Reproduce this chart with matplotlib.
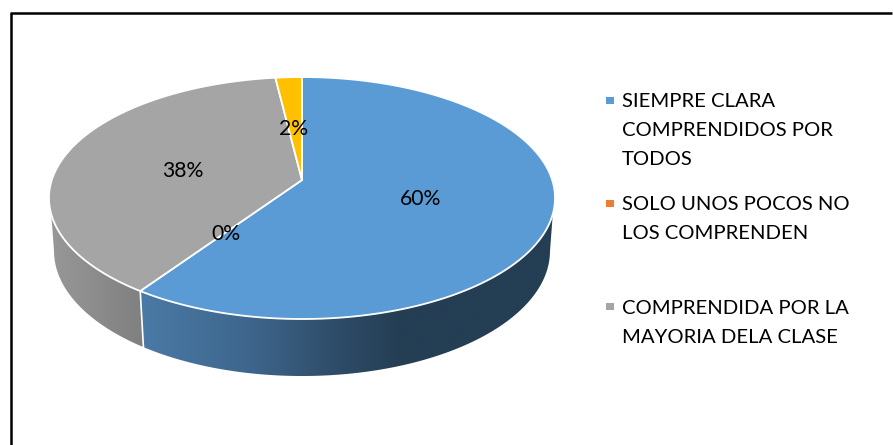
import numpy as np
import matplotlib
matplotlib.use("Agg")
import matplotlib.pyplot as plt
from matplotlib.patches import Polygon, Rectangle

plt.rcParams['font.family'] = ['Lato', 'DejaVu Sans']

# data
categories = ["SIEMPRE CLARA\nCOMPRENDIDOS POR\nTODOS",
              "SOLO UNOS POCOS NO\nLOS COMPRENDEN",
              "COMPRENDIDA POR LA\nMAYORIA DELA CLASE"]
values = [59.6, 0, 38.45, 1.95]
colors = ["#5B9BD5", "#ED7D31", "#A5A5A5", "#FFC000"]
label_pos = [(421, 199), (226, 234), (183, 171), (294, 129)]
legend_y = [100.5, 203.5, 306.5]
legend_text_y = [93, 196, 300]

# wall shading, left to right: x, rgb
wall_blue = [(140, (74, 122, 166)), (250, (62, 102, 140)), (330, (48, 78, 106)), (400, (36, 62, 84)), (556, (36, 62, 84))]
wall_grey = [(49, (152, 152, 152)), (143, (128, 128, 128))]

# geometry of the tilted disc, in pixels
CX, CY = 302, 180
A, B, K = 250.2, 118.3, 0.149


def top_xy(t):
    # t clockwise from 12 o'clock, simple perspective of a circle
    u, v = np.sin(t), np.cos(t)
    w = 1 + K * v
    return CX + A * u / w, CY - B * v / w


def bottom_xy(t):
    x, y = top_xy(t)
    return CX + (x - CX) * 0.98, 251 + (y - 198) * 125 / 121


fig = plt.figure(figsize=(8.93, 4.45), dpi=100)
ax = fig.add_axes([0, 0, 1, 1])

# outer frame
ax.plot([11, 11], [445, 12.5], color="black", lw=1.8, solid_capstyle="butt", zorder=1)
ax.plot([10, 892], [12.5, 12.5], color="black", lw=1.8, solid_capstyle="butt", zorder=1)

total = sum(values)
edges = 2 * np.pi * np.cumsum([0] + values) / total

# side wall, front half only
for i, grad in [(0, wall_blue), (2, wall_grey)]:
    ts = np.linspace(edges[i], edges[i + 1], 800)
    xt, yt = top_xy(ts)
    xb, yb = bottom_xy(ts)
    keep_t = yt >= 214
    keep_b = yb >= 251
    pts = list(zip(xt[keep_t], yt[keep_t])) + list(zip(xb[keep_b][::-1], yb[keep_b][::-1]))
    clip = Polygon(pts, closed=True, transform=ax.transData)
    gx = [g[0] for g in grad]
    xs = np.arange(gx[0], gx[-1] + 1)
    img = np.array([[[np.interp(x, gx, [g[1][k] for g in grad]) / 255 for k in range(3)] for x in xs]])
    im = ax.imshow(img, extent=(gx[0], gx[-1], 400, 150), aspect="auto", interpolation="bilinear", zorder=2)
    im.set_clip_path(clip)

ax.set_xlim(0, 893)
ax.set_ylim(445, 0)
ax.axis("off")

# divider on the wall between blue and grey
x0, y0 = top_xy(edges[1])
x1, y1 = bottom_xy(edges[1])
ax.plot([x0, x1], [y0, y1], color="white", lw=1.2, zorder=3)

# top faces
for i, val in enumerate(values):
    if val == 0:
        continue
    ts = np.linspace(edges[i], edges[i + 1], 300)
    x, y = top_xy(ts)
    pts = [(CX, CY)] + list(zip(x, y))
    ax.add_patch(Polygon(pts, closed=True, fc=colors[i], ec="white", lw=1.3, joinstyle="round", zorder=4))

# percent labels
for val, (lx, ly) in zip(values, label_pos):
    ax.text(lx, ly, f"{round(100 * val / total)}%", ha="center", va="center", fontsize=15.2, color="black", zorder=6)

# legend
for i in range(3):
    ax.add_patch(Rectangle((606, legend_y[i] - 3.5), 8, 7, fc=colors[i], ec="none", zorder=5))
    ax.text(622, legend_text_y[i], categories[i], ha="left", va="top", fontsize=14.6, linespacing=1.85, color="black")

fig.savefig("out.png", dpi=100)
